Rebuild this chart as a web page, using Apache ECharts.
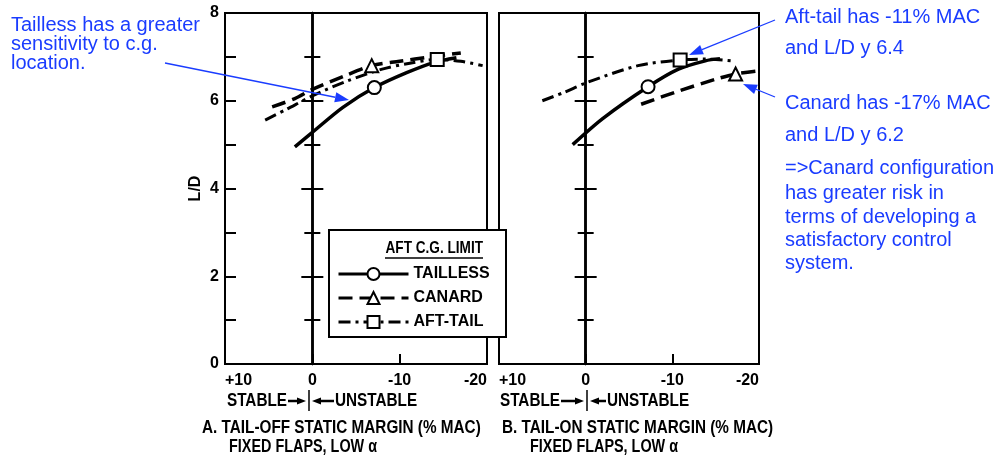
<!DOCTYPE html>
<html lang="en">
<head>
<meta charset="UTF-8">
<title>L/D vs static margin</title>
<style>
  html, body { margin: 0; padding: 0; background: #fff; }
  #main { width: 1000px; height: 460px; }
</style>
</head>
<body>
<div id="main"></div>
<script src="https://cdn.jsdelivr.net/npm/echarts@6/dist/echarts.min.js"></script>
<script>
// A. tail-off static margin (x = % MAC, positive = stable), y = L/D
var offTaillessX = [2.0, 0, -3.5, -7.1, -10.8, -13.9, -16.5];
var offTaillessY = [4.95, 5.28, 5.85, 6.3, 6.64, 6.87, 6.98];
var offTaillessMark = 3;
var offCanardX = [4.6, 2, 0, -3.5, -6.8, -10, -13.5, -17];
var offCanardY = [5.86, 6.05, 6.26, 6.55, 6.8, 6.9, 7.0, 7.09];
var offCanardMark = 4;
var offAftX = [5.4, 3, 0, -4, -8, -11, -14.3, -17, -19.5];
var offAftY = [5.56, 5.8, 6.11, 6.45, 6.72, 6.85, 6.94, 6.9, 6.8];
var offAftMark = 6;

// B. tail-on static margin
var onTaillessX = [1.5, -2, -7.2, -10.7, -13.8, -15.5];
var onTaillessY = [5.0, 5.6, 6.32, 6.72, 6.91, 6.96];
var onTaillessMark = 2;
var onCanardX = [-6.4, -10.7, -15, -17.3, -20];
var onCanardY = [5.92, 6.22, 6.49, 6.61, 6.68];
var onCanardMark = 3;
var onAftX = [5.0, 2.5, -0.2, -6.05, -10.9, -14, -17.3];
var onAftY = [6.0, 6.19, 6.42, 6.8, 6.93, 6.95, 6.9];
var onAftMark = 4;

var seriesNames = ['TAILLESS', 'CANARD', 'AFT-TAIL'];
var yTicks = [0, 8, 2];      // min, max, interval
var xTicks = [-20, 10, 10];  // min, max, interval

var noteLeft = ['Tailless has a greater', 'sensitivity to c.g.', 'location.'];
var noteRight = ['Aft-tail has -11% MAC', 'and L/D y 6.4', 'Canard has -17% MAC', 'and L/D y 6.2',
  '=>Canard configuration', 'has greater risk in', 'terms of developing a', 'satisfactory control', 'system.'];
var noteRightY = [17, 48, 103, 135, 168, 193, 217, 240, 263];

var FONT = '"Liberation Sans", Arial, sans-serif';
var BLUE = '#1a3cff';

function pts(xs, ys, mark) {
  var d = [];
  for (var i = 0; i < xs.length; i++) {
    if (i === mark) d.push({ value: [xs[i], ys[i]] });
    else d.push({ value: [xs[i], ys[i]], symbol: 'none' });
  }
  return d;
}

var styles = {
  'TAILLESS': { symbol: 'emptyCircle', line: { color: '#000', width: 3.5 } },
  'CANARD': { symbol: 'emptyTriangle', line: { color: '#000', width: 3.5, type: [14, 7] } },
  'AFT-TAIL': { symbol: 'emptyRect', line: { color: '#000', width: 3, type: [12, 5, 3, 5] } }
};

function mkSeries(name, g, data) {
  return {
    name: name, type: 'line', xAxisIndex: g, yAxisIndex: g * 3,
    data: data, smooth: 0.3, symbol: styles[name].symbol, symbolSize: 13,
    showAllSymbol: true, lineStyle: styles[name].line,
    itemStyle: { color: '#000', borderWidth: 1.8 }, z: 5
  };
}

function arrow(x1, y1, x2, y2, color, w, L, W) {
  var a = Math.atan2(y2 - y1, x2 - x1);
  var bx = x2 - L * Math.cos(a), by = y2 - L * Math.sin(a);
  return [
    { type: 'line', z: 10, shape: { x1: x1, y1: y1, x2: bx, y2: by }, style: { stroke: color, lineWidth: w } },
    { type: 'polygon', z: 10, shape: { points: [[x2, y2], [bx + W * Math.sin(a), by - W * Math.cos(a)], [bx - W * Math.sin(a), by + W * Math.cos(a)]] }, style: { fill: color } }
  ];
}

// black captions are narrow bold type in the original, so squeeze them a bit
function txt(s, x, y, opt) {
  opt = opt || {};
  return {
    type: 'text', x: x, y: y, z: 10, scaleX: opt.sx || 0.85,
    style: {
      text: s, fill: opt.color || '#000', fontSize: opt.size || 18, fontWeight: opt.weight || 'bold',
      fontFamily: FONT, textAlign: opt.align || 'left', textVerticalAlign: 'middle'
    }
  };
}

var gridPos = [{ left: 225, width: 262 }, { left: 499, width: 260 }];
var labelStyle = { color: '#000', fontSize: 16, fontWeight: 'bold', fontFamily: FONT };

var grids = [], xAxes = [], yAxes = [];
for (var g = 0; g < 2; g++) {
  grids.push({ left: gridPos[g].left, width: gridPos[g].width, top: 13, height: 351, show: true, borderColor: '#000', borderWidth: 2 });
  xAxes.push({
    gridIndex: g, type: 'value', min: xTicks[0], max: xTicks[1], interval: xTicks[2], inverse: true,
    axisLine: { onZero: false, lineStyle: { color: '#000', width: 2 } },
    axisTick: { inside: true, length: 10, lineStyle: { color: '#000', width: 2 } },
    splitLine: { show: false },
    axisLabel: Object.assign({
      margin: 9, alignMinLabel: 'right', alignMaxLabel: 'left',
      formatter: function (v) { return v > 0 ? '+' + v : String(v); }
    }, labelStyle)
  });
  // frame axis (left edge)
  yAxes.push({
    gridIndex: g, type: 'value', min: yTicks[0], max: yTicks[1], interval: yTicks[2],
    name: g === 0 ? 'L/D' : '', nameLocation: 'middle', nameGap: 21, nameRotate: 90,
    nameTextStyle: labelStyle,
    axisLine: { onZero: false, lineStyle: { color: '#000', width: 2 } },
    axisTick: { show: g === 0, inside: true, length: 11, lineStyle: { color: '#000', width: 2 } },
    minorTick: { show: g === 0, splitNumber: 2, length: 11, lineStyle: { color: '#000', width: 2 } },
    splitLine: { show: false },
    axisLabel: Object.assign({ show: g === 0, margin: 6 }, labelStyle)
  });
  // zero line, ticks to both sides
  ['left', 'right'].forEach(function (pos) {
    yAxes.push({
      gridIndex: g, type: 'value', min: yTicks[0], max: yTicks[1], interval: yTicks[2], position: pos,
      axisLine: { show: true, onZero: true, onZeroAxisIndex: g, lineStyle: { color: '#000', width: 2.5 } },
      axisTick: { show: true, length: 11, lineStyle: { color: '#000', width: 2 } },
      minorTick: { show: true, splitNumber: 2, length: 8, lineStyle: { color: '#000', width: 2 } },
      splitLine: { show: false },
      axisLabel: { show: false }
    });
  });
}

var series = [
  mkSeries('TAILLESS', 0, pts(offTaillessX, offTaillessY, offTaillessMark)),
  mkSeries('CANARD', 0, pts(offCanardX, offCanardY, offCanardMark)),
  mkSeries('AFT-TAIL', 0, pts(offAftX, offAftY, offAftMark)),
  mkSeries('TAILLESS', 1, pts(onTaillessX, onTaillessY, onTaillessMark)),
  mkSeries('CANARD', 1, pts(onCanardX, onCanardY, onCanardMark)),
  mkSeries('AFT-TAIL', 1, pts(onAftX, onAftY, onAftMark))
];

var gfx = [];
// legend frame and heading
gfx.push({ type: 'rect', z: 3, shape: { x: 329, y: 230, width: 177, height: 107 }, style: { fill: '#fff', stroke: '#000', lineWidth: 2 } });
gfx.push(txt('AFT C.G. LIMIT', 483, 248, { align: 'right', size: 17, sx: 0.8 }));
gfx.push({ type: 'line', z: 10, shape: { x1: 385, y1: 258, x2: 483, y2: 258 }, style: { stroke: '#000', lineWidth: 1.5 } });

// stable / unstable captions
var capt = [
  { stableEnd: 287, bar: 309, unstable: 335, title: 'A. TAIL-OFF STATIC MARGIN (% MAC)', tx: 202, sx: 229 },
  { stableEnd: 560, bar: 587, unstable: 607, title: 'B. TAIL-ON STATIC MARGIN (% MAC)', tx: 502, sx: 530 }
];
capt.forEach(function (c) {
  gfx.push(txt('STABLE', c.stableEnd, 401, { align: 'right' }));
  gfx.push(txt('UNSTABLE', c.unstable, 401));
  gfx = gfx.concat(arrow(c.stableEnd + 1, 401, c.bar - 3, 401, '#000', 2.5, 9, 3.5));
  gfx = gfx.concat(arrow(c.unstable - 1, 401, c.bar + 3, 401, '#000', 2.5, 9, 3.5));
  gfx.push({ type: 'line', z: 10, shape: { x1: c.bar, y1: 390, x2: c.bar, y2: 411 }, style: { stroke: '#000', lineWidth: 1.5 } });
  gfx.push(txt(c.title, c.tx, 428));
  gfx.push(txt('FIXED FLAPS, LOW \u03b1', c.sx, 447, { sx: 0.8 }));
});

// blue notes
noteLeft.forEach(function (s, i) {
  gfx.push(txt(s, 11, 25 + i * 19, { color: BLUE, size: 20, weight: 'normal', sx: 1 }));
});
noteRight.forEach(function (s, i) {
  gfx.push(txt(s, 785, noteRightY[i], { color: BLUE, size: 20, weight: 'normal', sx: 1 }));
});
gfx = gfx.concat(arrow(165, 63, 349, 100, BLUE, 1.3, 14, 5));
gfx = gfx.concat(arrow(775, 20, 689, 55, BLUE, 1.3, 14, 5));
gfx = gfx.concat(arrow(775, 97, 743, 84, BLUE, 1.3, 14, 5));

var myChart = echarts.init(document.getElementById('main'), null, { renderer: 'canvas' });
var option = {
  animation: false,
  backgroundColor: '#fff',
  grid: grids,
  xAxis: xAxes,
  yAxis: yAxes,
  legend: {
    data: seriesNames, orient: 'vertical', left: 337, top: 266, itemWidth: 70, itemHeight: 15, itemGap: 8,
    padding: 0, selectedMode: false, z: 6,
    lineStyle: { width: 3 },
    textStyle: { color: '#000', fontSize: 16, fontWeight: 'bold', fontFamily: FONT }
  },
  graphic: gfx,
  series: series
};
myChart.setOption(option);
</script>
</body>
</html>
